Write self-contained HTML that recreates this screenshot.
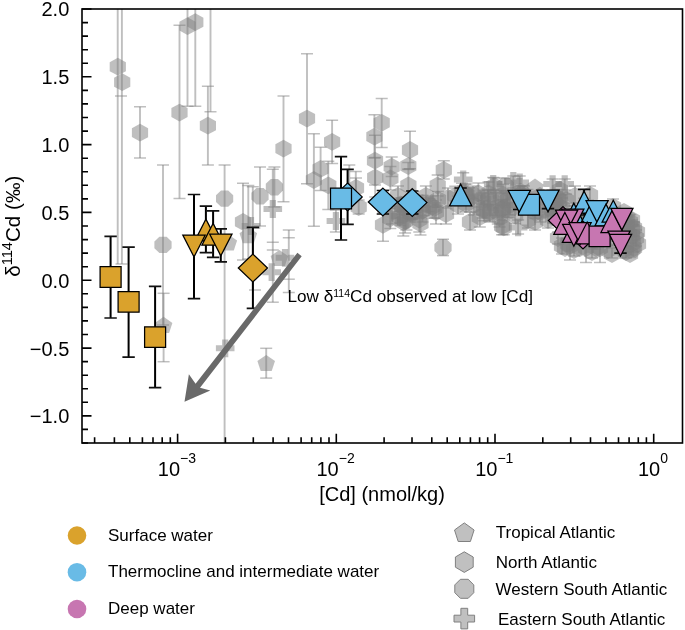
<!DOCTYPE html>
<html><head><meta charset="utf-8"><style>
html,body{margin:0;padding:0;background:#fff;width:685px;height:630px;overflow:hidden}
svg{display:block;font-family:"Liberation Sans",sans-serif;will-change:transform}
.el{stroke:#808080;stroke-opacity:.5;stroke-width:1.9;fill:none}
.ec{stroke:#808080;stroke-opacity:.5;stroke-width:1.5;fill:none}
.gm{fill:#808080;fill-opacity:.5}
.eb{stroke:#000;stroke-width:2;fill:none}
.ebc{stroke:#111;stroke-width:1.7;fill:none}
.cm{stroke:#000;stroke-width:1.25;stroke-linejoin:miter}
</style></head><body>
<svg width="685" height="630" viewBox="0 0 685 630">
<defs><clipPath id="ax"><rect x="82.0" y="9.0" width="600.5" height="434.0"/></clipPath></defs>
<g clip-path="url(#ax)">
<path d="M117.8 57.8 L109.7 62.2 L109.7 71.2 L117.8 75.6 L125.9 71.2 L125.9 62.2Z" class="gm"/>
<path d="M122.2 73.3 L114.1 77.8 L114.1 86.7 L122.2 91.1 L130.3 86.7 L130.3 77.8Z" class="gm"/>
<path d="M140 106.7V158.1" class="el"/>
<path d="M134 106.7H146" class="ec"/>
<path d="M134 158.1H146" class="ec"/>
<path d="M140 123.8 L131.9 128.2 L131.9 137.1 L140 141.6 L148.1 137.2 L148.1 128.2Z" class="gm"/>
<path d="M179.5 25.3V198.6" class="el"/>
<path d="M173.5 25.3H185.5" class="ec"/>
<path d="M173.5 198.6H185.5" class="ec"/>
<path d="M179.5 103.7 L171.4 108.1 L171.4 117 L179.5 121.5 L187.6 117 L187.6 108.1Z" class="gm"/>
<path d="M187.5 4V106.2" class="el"/>
<path d="M181.5 106.2H193.5" class="ec"/>
<path d="M187.5 17.3 L179.4 21.8 L179.4 30.6 L187.5 35.1 L195.6 30.7 L195.6 21.8Z" class="gm"/>
<path d="M195.3 4V106.2" class="el"/>
<path d="M189.3 106.2H201.3" class="ec"/>
<path d="M195.3 13.3 L187.2 17.8 L187.2 26.6 L195.3 31.1 L203.4 26.7 L203.4 17.8Z" class="gm"/>
<path d="M207.9 86.3V165" class="el"/>
<path d="M201.9 86.3H213.9" class="ec"/>
<path d="M201.9 165H213.9" class="ec"/>
<path d="M207.9 116.8 L199.8 121.2 L199.8 130.2 L207.9 134.6 L216 130.2 L216 121.2Z" class="gm"/>
<path d="M163 165V325" class="el"/>
<path d="M157 165H169" class="ec"/>
<path d="M157 325H169" class="ec"/>
<path d="M171.6 241.5 L166.6 236.7 L159.4 236.7 L154.4 241.5 L154.4 248.3 L159.4 253.1 L166.6 253.1 L171.6 248.3Z" class="gm"/>
<path d="M163.6 293.3V361.7" class="el"/>
<path d="M157.6 293.3H169.6" class="ec"/>
<path d="M157.6 361.7H169.6" class="ec"/>
<path d="M163.6 316.8 L154.8 322.9 L158.1 332.9 L169.1 332.9 L172.4 322.9Z" class="gm"/>
<path d="M224.6 165V448" class="el"/>
<path d="M218.6 165H230.6" class="ec"/>
<path d="M233.2 195.2 L228.2 190.4 L221 190.4 L216 195.2 L216 202 L221 206.8 L228.2 206.8 L233.2 202Z" class="gm"/>
<path d="M222.1 339.4 L228.3 339.4 L228.3 345.3 L234.5 345.3 L234.5 351.3 L228.3 351.3 L228.3 357.2 L222.1 357.2 L222.1 351.3 L215.9 351.3 L215.9 345.3 L222.1 345.3Z" class="gm"/>
<path d="M266.2 348.3V378.1" class="el"/>
<path d="M260.2 348.3H272.2" class="ec"/>
<path d="M260.2 378.1H272.2" class="ec"/>
<path d="M266.2 354.9 L257.4 361 L260.7 371 L271.7 371 L275 361Z" class="gm"/>
<path d="M283.5 95.9V201.7" class="el"/>
<path d="M277.5 95.9H289.5" class="ec"/>
<path d="M277.5 201.7H289.5" class="ec"/>
<path d="M283.5 139.7 L275.4 144.2 L275.4 153 L283.5 157.5 L291.6 153.1 L291.6 144.2Z" class="gm"/>
<path d="M307 53.7V183.8" class="el"/>
<path d="M301 53.7H313" class="ec"/>
<path d="M301 183.8H313" class="ec"/>
<path d="M307 109.7 L298.9 114.1 L298.9 123 L307 127.5 L315.1 123 L315.1 114.1Z" class="gm"/>
<path d="M260 166.9V225.9" class="el"/>
<path d="M254 166.9H266" class="ec"/>
<path d="M254 225.9H266" class="ec"/>
<path d="M268.6 192.8 L263.6 188 L256.4 188 L251.4 192.8 L251.4 199.6 L256.4 204.4 L263.6 204.4 L268.6 199.6Z" class="gm"/>
<path d="M274.4 167.1V207" class="el"/>
<path d="M268.4 167.1H280.4" class="ec"/>
<path d="M268.4 207H280.4" class="ec"/>
<path d="M283 183.8 L278 179 L270.8 179 L265.8 183.8 L265.8 190.6 L270.8 195.4 L278 195.4 L283 190.6Z" class="gm"/>
<path d="M269.7 200.1 L275.9 200.1 L275.9 206 L282.1 206 L282.1 212 L275.9 212 L275.9 217.9 L269.7 217.9 L269.7 212 L263.5 212 L263.5 206 L269.7 206Z" class="gm"/>
<path d="M243 183.3V260" class="el"/>
<path d="M237 183.3H249" class="ec"/>
<path d="M237 260H249" class="ec"/>
<path d="M243 212.9 L234.9 217.4 L234.9 226.2 L243 230.7 L251.1 226.3 L251.1 217.4Z" class="gm"/>
<path d="M248.3 185.5V259" class="el"/>
<path d="M242.3 185.5H254.3" class="ec"/>
<path d="M242.3 259H254.3" class="ec"/>
<path d="M248.3 227.1 L239.5 233.2 L242.8 243.2 L253.8 243.2 L257.1 233.2Z" class="gm"/>
<path d="M247.9 217.1 L254.1 217.1 L254.1 223 L260.3 223 L260.3 229 L254.1 229 L254.1 234.9 L247.9 234.9 L247.9 229 L241.7 229 L241.7 223 L247.9 223Z" class="gm"/>
<path d="M228.3 234.4 L219.5 240.5 L222.8 250.5 L233.8 250.5 L237.1 240.5Z" class="gm"/>
<path d="M279.4 250 L270.6 256.1 L273.9 266.1 L284.9 266.1 L288.2 256.1Z" class="gm"/>
<path d="M281.9 248.9 L288.1 248.9 L288.1 254.8 L294.3 254.8 L294.3 260.8 L288.1 260.8 L288.1 266.7 L281.9 266.7 L281.9 260.8 L275.7 260.8 L275.7 254.8 L281.9 254.8Z" class="gm"/>
<path d="M268.6 263.3 L274.8 263.3 L274.8 269.2 L281 269.2 L281 275.2 L274.8 275.2 L274.8 281.1 L268.6 281.1 L268.6 275.2 L262.4 275.2 L262.4 269.2 L268.6 269.2Z" class="gm"/>
<path d="M332.1 120.3V163.6" class="el"/>
<path d="M326.1 120.3H338.1" class="ec"/>
<path d="M326.1 163.6H338.1" class="ec"/>
<path d="M332.1 133 L324 137.5 L324 146.3 L332.1 150.8 L340.2 146.4 L340.2 137.5Z" class="gm"/>
<path d="M320.6 147.3V190.5" class="el"/>
<path d="M314.6 147.3H326.6" class="ec"/>
<path d="M314.6 190.5H326.6" class="ec"/>
<path d="M320.6 160 L312.5 164.5 L312.5 173.3 L320.6 177.8 L328.7 173.4 L328.7 164.5Z" class="gm"/>
<path d="M313.9 133.7V226.3" class="el"/>
<path d="M307.9 133.7H319.9" class="ec"/>
<path d="M307.9 226.3H319.9" class="ec"/>
<path d="M313.9 171.1 L305.8 175.6 L305.8 184.4 L313.9 188.9 L322 184.5 L322 175.6Z" class="gm"/>
<path d="M328.3 161.3V209.5" class="el"/>
<path d="M322.3 161.3H334.3" class="ec"/>
<path d="M322.3 209.5H334.3" class="ec"/>
<path d="M328.3 176.5 L320.2 181 L320.2 189.8 L328.3 194.3 L336.4 189.9 L336.4 181Z" class="gm"/>
<path d="M381.7 98.6V147.6" class="el"/>
<path d="M375.7 98.6H387.7" class="ec"/>
<path d="M375.7 147.6H387.7" class="ec"/>
<path d="M381.7 113.9 L373.6 118.3 L373.6 127.2 L381.7 131.7 L389.8 127.2 L389.8 118.3Z" class="gm"/>
<path d="M374.4 114.8V158" class="el"/>
<path d="M368.4 114.8H380.4" class="ec"/>
<path d="M368.4 158H380.4" class="ec"/>
<path d="M374.4 127.8 L366.3 132.2 L366.3 141.1 L374.4 145.6 L382.5 141.2 L382.5 132.2Z" class="gm"/>
<path d="M375 135.3V185" class="el"/>
<path d="M369 135.3H381" class="ec"/>
<path d="M369 185H381" class="ec"/>
<path d="M375 151.7 L366.9 156.2 L366.9 165 L375 169.5 L383.1 165.1 L383.1 156.2Z" class="gm"/>
<path d="M375.2 157.6V197" class="el"/>
<path d="M369.2 157.6H381.2" class="ec"/>
<path d="M369.2 197H381.2" class="ec"/>
<path d="M375.2 168.7 L367.1 173.2 L367.1 182 L375.2 186.5 L383.3 182.1 L383.3 173.2Z" class="gm"/>
<path d="M410 131.3V168.7" class="el"/>
<path d="M404 131.3H416" class="ec"/>
<path d="M404 168.7H416" class="ec"/>
<path d="M410 141.1 L401.9 145.6 L401.9 154.4 L410 158.9 L418.1 154.5 L418.1 145.6Z" class="gm"/>
<path d="M408.3 162.6V169.4" class="el"/>
<path d="M402.3 162.6H414.3" class="ec"/>
<path d="M402.3 169.4H414.3" class="ec"/>
<path d="M408.3 157.1 L400.2 161.6 L400.2 170.4 L408.3 174.9 L416.4 170.5 L416.4 161.6Z" class="gm"/>
<path d="M391.7 157V176.4" class="el"/>
<path d="M385.7 157H397.7" class="ec"/>
<path d="M385.7 176.4H397.7" class="ec"/>
<path d="M391.7 157.8 L383.6 162.2 L383.6 171.1 L391.7 175.6 L399.8 171.2 L399.8 162.2Z" class="gm"/>
<path d="M390.4 166.4V190" class="el"/>
<path d="M384.4 166.4H396.4" class="ec"/>
<path d="M384.4 190H396.4" class="ec"/>
<path d="M390.4 169.4 L382.3 173.9 L382.3 182.8 L390.4 187.2 L398.5 182.8 L398.5 173.9Z" class="gm"/>
<path d="M408.4 169.1V201" class="el"/>
<path d="M402.4 169.1H414.4" class="ec"/>
<path d="M402.4 201H414.4" class="ec"/>
<path d="M408.4 176.5 L400.3 181 L400.3 189.8 L408.4 194.3 L416.5 189.9 L416.5 181Z" class="gm"/>
<path d="M443.8 160.8V179" class="el"/>
<path d="M437.8 160.8H449.8" class="ec"/>
<path d="M437.8 179H449.8" class="ec"/>
<path d="M443.8 161.1 L435.7 165.6 L435.7 174.4 L443.8 178.9 L451.9 174.5 L451.9 165.6Z" class="gm"/>
<path d="M463.2 172.8V186" class="el"/>
<path d="M457.2 172.8H469.2" class="ec"/>
<path d="M457.2 186H469.2" class="ec"/>
<path d="M460.1 170.5 L466.3 170.5 L466.3 176.4 L472.5 176.4 L472.5 182.4 L466.3 182.4 L466.3 188.3 L460.1 188.3 L460.1 182.4 L453.9 182.4 L453.9 176.4 L460.1 176.4Z" class="gm"/>
<path d="M437.7 175V196" class="el"/>
<path d="M431.7 175H443.7" class="ec"/>
<path d="M431.7 196H443.7" class="ec"/>
<path d="M437.7 176.6 L429.6 181.1 L429.6 189.9 L437.7 194.4 L445.8 190 L445.8 181.1Z" class="gm"/>
<path d="M356 178V198" class="el"/>
<path d="M350 178H362" class="ec"/>
<path d="M350 198H362" class="ec"/>
<path d="M356 179.1 L347.9 183.6 L347.9 192.4 L356 196.9 L364.1 192.5 L364.1 183.6Z" class="gm"/>
<path d="M335.9 210V232" class="el"/>
<path d="M329.9 210H341.9" class="ec"/>
<path d="M329.9 232H341.9" class="ec"/>
<path d="M332.8 212.1 L339 212.1 L339 218 L345.2 218 L345.2 224 L339 224 L339 229.9 L332.8 229.9 L332.8 224 L326.6 224 L326.6 218 L332.8 218Z" class="gm"/>
<path d="M358.7 200V214" class="el"/>
<path d="M352.7 200H364.7" class="ec"/>
<path d="M352.7 214H364.7" class="ec"/>
<path d="M358.7 198.1 L350.6 202.6 L350.6 211.4 L358.7 215.9 L366.8 211.5 L366.8 202.6Z" class="gm"/>
<path d="M383 212V241.2" class="el"/>
<path d="M377 212H389" class="ec"/>
<path d="M377 241.2H389" class="ec"/>
<path d="M383 215.9 L374.9 220.4 L374.9 229.2 L383 233.7 L391.1 229.3 L391.1 220.4Z" class="gm"/>
<path d="M403.3 208V236" class="el"/>
<path d="M397.3 208H409.3" class="ec"/>
<path d="M397.3 236H409.3" class="ec"/>
<path d="M403.3 213.3 L395.2 217.8 L395.2 226.6 L403.3 231.1 L411.4 226.7 L411.4 217.8Z" class="gm"/>
<path d="M405.1 209V233" class="el"/>
<path d="M399.1 209H411.1" class="ec"/>
<path d="M399.1 233H411.1" class="ec"/>
<path d="M405.1 212.1 L397 216.6 L397 225.4 L405.1 229.9 L413.2 225.5 L413.2 216.6Z" class="gm"/>
<path d="M420.5 212V235" class="el"/>
<path d="M414.5 212H426.5" class="ec"/>
<path d="M414.5 235H426.5" class="ec"/>
<path d="M420.5 214.6 L412.4 219.1 L412.4 227.9 L420.5 232.4 L428.6 228 L428.6 219.1Z" class="gm"/>
<path d="M419.3 207V232" class="el"/>
<path d="M413.3 207H425.3" class="ec"/>
<path d="M413.3 232H425.3" class="ec"/>
<path d="M419.3 210.7 L411.2 215.2 L411.2 224 L419.3 228.5 L427.4 224.1 L427.4 215.2Z" class="gm"/>
<path d="M443 239.3V255.6" class="el"/>
<path d="M437 239.3H449" class="ec"/>
<path d="M437 255.6H449" class="ec"/>
<path d="M451.6 244.1 L446.6 239.3 L439.4 239.3 L434.4 244.1 L434.4 250.9 L439.4 255.7 L446.6 255.7 L451.6 250.9Z" class="gm"/>
<path d="M425.9 186V206" class="el"/>
<path d="M419.9 186H431.9" class="ec"/>
<path d="M419.9 206H431.9" class="ec"/>
<path d="M425.9 187.1 L417.8 191.6 L417.8 200.4 L425.9 204.9 L434 200.5 L434 191.6Z" class="gm"/>
<path d="M432.5 196V218" class="el"/>
<path d="M426.5 196H438.5" class="ec"/>
<path d="M426.5 218H438.5" class="ec"/>
<path d="M432.5 197.6 L424.4 202.1 L424.4 210.9 L432.5 215.4 L440.6 211 L440.6 202.1Z" class="gm"/>
<path d="M436 200V224" class="el"/>
<path d="M430 200H442" class="ec"/>
<path d="M430 224H442" class="ec"/>
<path d="M436 203.1 L427.9 207.6 L427.9 216.4 L436 220.9 L444.1 216.5 L444.1 207.6Z" class="gm"/>
<path d="M398 186V206" class="el"/>
<path d="M392 186H404" class="ec"/>
<path d="M392 206H404" class="ec"/>
<path d="M398 187.1 L389.9 191.6 L389.9 200.4 L398 204.9 L406.1 200.5 L406.1 191.6Z" class="gm"/>
<path d="M392 200V224" class="el"/>
<path d="M386 200H398" class="ec"/>
<path d="M386 224H398" class="ec"/>
<path d="M392 203.1 L383.9 207.6 L383.9 216.4 L392 220.9 L400.1 216.5 L400.1 207.6Z" class="gm"/>
<path d="M448 188V208" class="el"/>
<path d="M442 188H454" class="ec"/>
<path d="M442 208H454" class="ec"/>
<path d="M448 189.1 L439.9 193.6 L439.9 202.4 L448 206.9 L456.1 202.5 L456.1 193.6Z" class="gm"/>
<path d="M446 206V224" class="el"/>
<path d="M440 206H452" class="ec"/>
<path d="M440 224H452" class="ec"/>
<path d="M446 205.1 L437.9 209.6 L437.9 218.4 L446 222.9 L454.1 218.5 L454.1 209.6Z" class="gm"/>
<path d="M466 196V212" class="el"/>
<path d="M460 196H472" class="ec"/>
<path d="M460 212H472" class="ec"/>
<path d="M466 195.1 L457.9 199.6 L457.9 208.4 L466 212.9 L474.1 208.5 L474.1 199.6Z" class="gm"/>
<path d="M478.4 183V203" class="el"/>
<path d="M472.4 183H484.4" class="ec"/>
<path d="M472.4 203H484.4" class="ec"/>
<path d="M478.4 184.5 L470.3 189 L470.3 197.8 L478.4 202.3 L486.5 197.9 L486.5 189Z" class="gm"/>
<path d="M479.8 207V227" class="el"/>
<path d="M473.8 207H485.8" class="ec"/>
<path d="M473.8 227H485.8" class="ec"/>
<path d="M479.8 208.1 L471.7 212.6 L471.7 221.4 L479.8 225.9 L487.9 221.5 L487.9 212.6Z" class="gm"/>
<path d="M474 195V215" class="el"/>
<path d="M468 195H480" class="ec"/>
<path d="M468 215H480" class="ec"/>
<path d="M474 196.1 L465.9 200.6 L465.9 209.4 L474 213.9 L482.1 209.5 L482.1 200.6Z" class="gm"/>
<path d="M488 190V210" class="el"/>
<path d="M482 190H494" class="ec"/>
<path d="M482 210H494" class="ec"/>
<path d="M488 191.1 L479.9 195.6 L479.9 204.4 L488 208.9 L496.1 204.5 L496.1 195.6Z" class="gm"/>
<path d="M494.2 178V194" class="el"/>
<path d="M488.2 178H500.2" class="ec"/>
<path d="M488.2 194H500.2" class="ec"/>
<path d="M494.2 177.1 L486.1 181.6 L486.1 190.4 L494.2 194.9 L502.3 190.5 L502.3 181.6Z" class="gm"/>
<path d="M502.1 216V234.7" class="el"/>
<path d="M496.1 216H508.1" class="ec"/>
<path d="M496.1 234.7H508.1" class="ec"/>
<path d="M502.1 217.3 L494 221.8 L494 230.6 L502.1 235.1 L510.2 230.7 L510.2 221.8Z" class="gm"/>
<path d="M499.6 208V227" class="el"/>
<path d="M493.6 208H505.6" class="ec"/>
<path d="M493.6 227H505.6" class="ec"/>
<path d="M499.6 208.9 L491.5 213.4 L491.5 222.2 L499.6 226.7 L507.7 222.3 L507.7 213.4Z" class="gm"/>
<path d="M490 202V222" class="el"/>
<path d="M484 202H496" class="ec"/>
<path d="M484 222H496" class="ec"/>
<path d="M490 203.1 L481.9 207.6 L481.9 216.4 L490 220.9 L498.1 216.5 L498.1 207.6Z" class="gm"/>
<path d="M493.2 177.5V190" class="el"/>
<path d="M487.2 177.5H499.2" class="ec"/>
<path d="M487.2 190H499.2" class="ec"/>
<path d="M490.1 175.1 L496.3 175.1 L496.3 181 L502.5 181 L502.5 187 L496.3 187 L496.3 192.9 L490.1 192.9 L490.1 187 L483.9 187 L483.9 181 L490.1 181Z" class="gm"/>
<path d="M513.3 176V188" class="el"/>
<path d="M507.3 176H519.3" class="ec"/>
<path d="M507.3 188H519.3" class="ec"/>
<path d="M510.2 172.1 L516.4 172.1 L516.4 178 L522.6 178 L522.6 184 L516.4 184 L516.4 189.9 L510.2 189.9 L510.2 184 L504 184 L504 178 L510.2 178Z" class="gm"/>
<path d="M505.3 178V193" class="el"/>
<path d="M499.3 178H511.3" class="ec"/>
<path d="M499.3 193H511.3" class="ec"/>
<path d="M513.9 182.3 L508.9 177.5 L501.7 177.5 L496.7 182.3 L496.7 189.1 L501.7 193.9 L508.9 193.9 L513.9 189.1Z" class="gm"/>
<path d="M535 178.6 L526.2 184.7 L529.5 194.7 L540.5 194.7 L543.8 184.7Z" class="gm"/>
<path d="M519.7 176V189" class="el"/>
<path d="M513.7 176H525.7" class="ec"/>
<path d="M513.7 189H525.7" class="ec"/>
<path d="M516.6 173.6 L522.8 173.6 L522.8 179.5 L529 179.5 L529 185.5 L522.8 185.5 L522.8 191.4 L516.6 191.4 L516.6 185.5 L510.4 185.5 L510.4 179.5 L516.6 179.5Z" class="gm"/>
<path d="M552.6 179V190" class="el"/>
<path d="M546.6 179H558.6" class="ec"/>
<path d="M546.6 190H558.6" class="ec"/>
<path d="M549.5 175.2 L555.7 175.2 L555.7 181.1 L561.9 181.1 L561.9 187.1 L555.7 187.1 L555.7 193 L549.5 193 L549.5 187.1 L543.3 187.1 L543.3 181.1 L549.5 181.1Z" class="gm"/>
<path d="M564.7 179V190" class="el"/>
<path d="M558.7 179H570.7" class="ec"/>
<path d="M558.7 190H570.7" class="ec"/>
<path d="M561.6 175.2 L567.8 175.2 L567.8 181.1 L574 181.1 L574 187.1 L567.8 187.1 L567.8 193 L561.6 193 L561.6 187.1 L555.4 187.1 L555.4 181.1 L561.6 181.1Z" class="gm"/>
<path d="M503.7 220V234.7" class="el"/>
<path d="M497.7 220H509.7" class="ec"/>
<path d="M497.7 234.7H509.7" class="ec"/>
<path d="M503.7 218.5 L495.6 223 L495.6 231.8 L503.7 236.3 L511.8 231.9 L511.8 223Z" class="gm"/>
<path d="M518.1 220V234" class="el"/>
<path d="M512.1 220H524.1" class="ec"/>
<path d="M512.1 234H524.1" class="ec"/>
<path d="M515 218.5 L521.2 218.5 L521.2 224.4 L527.4 224.4 L527.4 230.4 L521.2 230.4 L521.2 236.3 L515 236.3 L515 230.4 L508.8 230.4 L508.8 224.4 L515 224.4Z" class="gm"/>
<path d="M510 195V215" class="el"/>
<path d="M504 195H516" class="ec"/>
<path d="M504 215H516" class="ec"/>
<path d="M510 196.1 L501.9 200.6 L501.9 209.4 L510 213.9 L518.1 209.5 L518.1 200.6Z" class="gm"/>
<path d="M540 202V222" class="el"/>
<path d="M534 202H546" class="ec"/>
<path d="M534 222H546" class="ec"/>
<path d="M540 203.1 L531.9 207.6 L531.9 216.4 L540 220.9 L548.1 216.5 L548.1 207.6Z" class="gm"/>
<path d="M535 212V230" class="el"/>
<path d="M529 212H541" class="ec"/>
<path d="M529 230H541" class="ec"/>
<path d="M535 213.1 L526.9 217.6 L526.9 226.4 L535 230.9 L543.1 226.5 L543.1 217.6Z" class="gm"/>
<path d="M548 212V228" class="el"/>
<path d="M542 212H554" class="ec"/>
<path d="M542 228H554" class="ec"/>
<path d="M548 211.1 L539.9 215.6 L539.9 224.4 L548 228.9 L556.1 224.5 L556.1 215.6Z" class="gm"/>
<path d="M470 212V230" class="el"/>
<path d="M464 212H476" class="ec"/>
<path d="M464 230H476" class="ec"/>
<path d="M470 213.1 L461.9 217.6 L461.9 226.4 L470 230.9 L478.1 226.5 L478.1 217.6Z" class="gm"/>
<path d="M458 196V214" class="el"/>
<path d="M452 196H464" class="ec"/>
<path d="M452 214H464" class="ec"/>
<path d="M458 196.1 L449.9 200.6 L449.9 209.4 L458 213.9 L466.1 209.5 L466.1 200.6Z" class="gm"/>
<path d="M524 186V206" class="el"/>
<path d="M518 186H530" class="ec"/>
<path d="M518 206H530" class="ec"/>
<path d="M524 187.1 L515.9 191.6 L515.9 200.4 L524 204.9 L532.1 200.5 L532.1 191.6Z" class="gm"/>
<path d="M528 212V228" class="el"/>
<path d="M522 212H534" class="ec"/>
<path d="M522 228H534" class="ec"/>
<path d="M528 211.1 L519.9 215.6 L519.9 224.4 L528 228.9 L536.1 224.5 L536.1 215.6Z" class="gm"/>
<path d="M562 238V254" class="el"/>
<path d="M556 238H568" class="ec"/>
<path d="M556 254H568" class="ec"/>
<path d="M562 237.1 L553.9 241.6 L553.9 250.4 L562 254.9 L570.1 250.5 L570.1 241.6Z" class="gm"/>
<path d="M562 198V218" class="el"/>
<path d="M556 198H568" class="ec"/>
<path d="M556 218H568" class="ec"/>
<path d="M562 199.1 L553.9 203.6 L553.9 212.4 L562 216.9 L570.1 212.5 L570.1 203.6Z" class="gm"/>
<path d="M575 186V206" class="el"/>
<path d="M569 186H581" class="ec"/>
<path d="M569 206H581" class="ec"/>
<path d="M575 187.1 L566.9 191.6 L566.9 200.4 L575 204.9 L583.1 200.5 L583.1 191.6Z" class="gm"/>
<path d="M590 186V204" class="el"/>
<path d="M584 186H596" class="ec"/>
<path d="M584 204H596" class="ec"/>
<path d="M590 186.1 L581.9 190.6 L581.9 199.4 L590 203.9 L598.1 199.5 L598.1 190.6Z" class="gm"/>
<path d="M570 238V260" class="el"/>
<path d="M564 238H576" class="ec"/>
<path d="M564 260H576" class="ec"/>
<path d="M570 237.1 L561.9 241.6 L561.9 250.4 L570 254.9 L578.1 250.5 L578.1 241.6Z" class="gm"/>
<path d="M586 240V262.6" class="el"/>
<path d="M580 240H592" class="ec"/>
<path d="M580 262.6H592" class="ec"/>
<path d="M586 239.1 L577.9 243.6 L577.9 252.4 L586 256.9 L594.1 252.5 L594.1 243.6Z" class="gm"/>
<path d="M600 240V262.6" class="el"/>
<path d="M594 240H606" class="ec"/>
<path d="M594 262.6H606" class="ec"/>
<path d="M600 239.1 L591.9 243.6 L591.9 252.4 L600 256.9 L608.1 252.5 L608.1 243.6Z" class="gm"/>
<path d="M632 220V240" class="el"/>
<path d="M626 220H638" class="ec"/>
<path d="M626 240H638" class="ec"/>
<path d="M632 221.1 L623.9 225.6 L623.9 234.4 L632 238.9 L640.1 234.5 L640.1 225.6Z" class="gm"/>
<path d="M633 236V252" class="el"/>
<path d="M627 236H639" class="ec"/>
<path d="M627 252H639" class="ec"/>
<path d="M633 234.1 L624.9 238.6 L624.9 247.4 L633 251.9 L641.1 247.5 L641.1 238.6Z" class="gm"/>
<path d="M626 246V258" class="el"/>
<path d="M620 246H632" class="ec"/>
<path d="M620 258H632" class="ec"/>
<path d="M626 243.1 L617.9 247.6 L617.9 256.4 L626 260.9 L634.1 256.4 L634.1 247.6Z" class="gm"/>
<path d="M624 203.1 L615.9 207.6 L615.9 216.4 L624 220.9 L632.1 216.5 L632.1 207.6Z" class="gm"/>
<path d="M613 199V214" class="el"/>
<path d="M607 199H619" class="ec"/>
<path d="M607 214H619" class="ec"/>
<path d="M613 198.1 L604.9 202.6 L604.9 211.4 L613 215.9 L621.1 211.5 L621.1 202.6Z" class="gm"/>
<path d="M637 223.1 L628.9 227.6 L628.9 236.4 L637 240.9 L645.1 236.5 L645.1 227.6Z" class="gm"/>
<path d="M638 235.1 L629.9 239.6 L629.9 248.4 L638 252.9 L646.1 248.5 L646.1 239.6Z" class="gm"/>
<path d="M630 245.1 L621.9 249.6 L621.9 258.4 L630 262.9 L638.1 258.4 L638.1 249.6Z" class="gm"/>
<path d="M630 213.1 L621.9 217.6 L621.9 226.4 L630 230.9 L638.1 226.5 L638.1 217.6Z" class="gm"/>
<path d="M632 211.1 L623.9 215.6 L623.9 224.4 L632 228.9 L640.1 224.5 L640.1 215.6Z" class="gm"/>
<path d="M565 239.1 L556.9 243.6 L556.9 252.4 L565 256.9 L573.1 252.5 L573.1 243.6Z" class="gm"/>
<path d="M552 201.1 L543.9 205.6 L543.9 214.4 L552 218.9 L560.1 214.5 L560.1 205.6Z" class="gm"/>
<path d="M560 191.1 L551.9 195.6 L551.9 204.4 L560 208.9 L568.1 204.5 L568.1 195.6Z" class="gm"/>
<path d="M634 222V236" class="el"/>
<path d="M628 222H640" class="ec"/>
<path d="M628 236H640" class="ec"/>
<path d="M634 219.1 L625.9 223.6 L625.9 232.4 L634 236.9 L642.1 232.5 L642.1 223.6Z" class="gm"/>
<path d="M636 230V246" class="el"/>
<path d="M630 230H642" class="ec"/>
<path d="M630 246H642" class="ec"/>
<path d="M636 229.1 L627.9 233.6 L627.9 242.4 L636 246.9 L644.1 242.5 L644.1 233.6Z" class="gm"/>
<path d="M640.6 246.6 L635.6 241.8 L628.4 241.8 L623.4 246.6 L623.4 253.4 L628.4 258.2 L635.6 258.2 L640.6 253.4Z" class="gm"/>
<path d="M612 248V258" class="el"/>
<path d="M606 248H618" class="ec"/>
<path d="M606 258H618" class="ec"/>
<path d="M612 245.1 L603.9 249.6 L603.9 258.4 L612 262.9 L620.1 258.4 L620.1 249.6Z" class="gm"/>
<path d="M592 246V258" class="el"/>
<path d="M586 246H598" class="ec"/>
<path d="M586 258H598" class="ec"/>
<path d="M592 243.1 L583.9 247.6 L583.9 256.4 L592 260.9 L600.1 256.4 L600.1 247.6Z" class="gm"/>
<path d="M574 244V256" class="el"/>
<path d="M568 244H580" class="ec"/>
<path d="M568 256H580" class="ec"/>
<path d="M574 241.1 L565.9 245.6 L565.9 254.4 L574 258.9 L582.1 254.5 L582.1 245.6Z" class="gm"/>
<path d="M558 232V244" class="el"/>
<path d="M552 232H564" class="ec"/>
<path d="M552 244H564" class="ec"/>
<path d="M558 229.1 L549.9 233.6 L549.9 242.4 L558 246.9 L566.1 242.5 L566.1 233.6Z" class="gm"/>
<path d="M553 211V223" class="el"/>
<path d="M547 211H559" class="ec"/>
<path d="M547 223H559" class="ec"/>
<path d="M553 208.1 L544.9 212.6 L544.9 221.4 L553 225.9 L561.1 221.5 L561.1 212.6Z" class="gm"/>
<path d="M568 235.1 L559.9 239.6 L559.9 248.4 L568 252.9 L576.1 248.5 L576.1 239.6Z" class="gm"/>
<path d="M580 239.1 L571.9 243.6 L571.9 252.4 L580 256.9 L588.1 252.5 L588.1 243.6Z" class="gm"/>
<path d="M596 239.1 L587.9 243.6 L587.9 252.4 L596 256.9 L604.1 252.5 L604.1 243.6Z" class="gm"/>
<path d="M608 241.1 L599.9 245.6 L599.9 254.4 L608 258.9 L616.1 254.5 L616.1 245.6Z" class="gm"/>
<path d="M624 241.1 L615.9 245.6 L615.9 254.4 L624 258.9 L632.1 254.5 L632.1 245.6Z" class="gm"/>
<path d="M634 239.1 L625.9 243.6 L625.9 252.4 L634 256.9 L642.1 252.5 L642.1 243.6Z" class="gm"/>
<path d="M632 227.1 L623.9 231.6 L623.9 240.4 L632 244.9 L640.1 240.5 L640.1 231.6Z" class="gm"/>
<path d="M626 219.1 L617.9 223.6 L617.9 232.4 L626 236.9 L634.1 232.5 L634.1 223.6Z" class="gm"/>
<path d="M550 191.1 L541.9 195.6 L541.9 204.4 L550 208.9 L558.1 204.5 L558.1 195.6Z" class="gm"/>
<path d="M540 187.1 L531.9 191.6 L531.9 200.4 L540 204.9 L548.1 200.5 L548.1 191.6Z" class="gm"/>
<path d="M545 201.1 L536.9 205.6 L536.9 214.4 L545 218.9 L553.1 214.5 L553.1 205.6Z" class="gm"/>
<path d="M560 181.1 L551.9 185.6 L551.9 194.4 L560 198.9 L568.1 194.5 L568.1 185.6Z" class="gm"/>
<path d="M556 204V216" class="el"/>
<path d="M550 204H562" class="ec"/>
<path d="M550 216H562" class="ec"/>
<path d="M556 201.1 L547.9 205.6 L547.9 214.4 L556 218.9 L564.1 214.5 L564.1 205.6Z" class="gm"/>
<path d="M627 209.1 L618.9 213.6 L618.9 222.4 L627 226.9 L635.1 222.5 L635.1 213.6Z" class="gm"/>
<path d="M566 194V206" class="el"/>
<path d="M560 194H572" class="ec"/>
<path d="M560 206H572" class="ec"/>
<path d="M566 191.1 L557.9 195.6 L557.9 204.4 L566 208.9 L574.1 204.5 L574.1 195.6Z" class="gm"/>
<path d="M465 184.2V203.3" class="el"/>
<path d="M459 184.2H471" class="ec"/>
<path d="M459 203.3H471" class="ec"/>
<path d="M465 184.8 L456.9 189.2 L456.9 198.1 L465 202.6 L473.1 198.2 L473.1 189.2Z" class="gm"/>
<path d="M587.9 200.2V218.3" class="el"/>
<path d="M581.9 200.2H593.9" class="ec"/>
<path d="M581.9 218.3H593.9" class="ec"/>
<path d="M596.5 205.9 L591.5 201.1 L584.3 201.1 L579.3 205.9 L579.3 212.7 L584.3 217.5 L591.5 217.5 L596.5 212.7Z" class="gm"/>
<path d="M438 191.5V207.3" class="el"/>
<path d="M432 191.5H444" class="ec"/>
<path d="M432 207.3H444" class="ec"/>
<path d="M438 190.5 L429.9 195 L429.9 203.8 L438 208.3 L446.1 203.9 L446.1 195Z" class="gm"/>
<path d="M407.4 199.6V221.1" class="el"/>
<path d="M401.4 199.6H413.4" class="ec"/>
<path d="M401.4 221.1H413.4" class="ec"/>
<path d="M407.4 201.5 L399.3 206 L399.3 214.8 L407.4 219.3 L415.5 214.9 L415.5 206Z" class="gm"/>
<path d="M619 226.4V244.5" class="el"/>
<path d="M613 226.4H625" class="ec"/>
<path d="M613 244.5H625" class="ec"/>
<path d="M619 226.5 L610.9 231 L610.9 239.8 L619 244.3 L627.1 239.9 L627.1 231Z" class="gm"/>
<path d="M527.5 189.4V213.1" class="el"/>
<path d="M521.5 189.4H533.5" class="ec"/>
<path d="M521.5 213.1H533.5" class="ec"/>
<path d="M527.5 192.4 L519.4 196.9 L519.4 205.8 L527.5 210.2 L535.6 205.8 L535.6 196.9Z" class="gm"/>
<path d="M522.5 185.8V201.7" class="el"/>
<path d="M516.5 185.8H528.5" class="ec"/>
<path d="M516.5 201.7H528.5" class="ec"/>
<path d="M531.1 190.3 L526.1 185.5 L518.9 185.5 L513.9 190.3 L513.9 197.1 L518.9 201.9 L526.1 201.9 L531.1 197.1Z" class="gm"/>
<path d="M414.1 196.9V218.3" class="el"/>
<path d="M408.1 196.9H420.1" class="ec"/>
<path d="M408.1 218.3H420.1" class="ec"/>
<path d="M414.1 198.7 L406 203.2 L406 212 L414.1 216.5 L422.2 212.1 L422.2 203.2Z" class="gm"/>
<path d="M410.5 206.5V219.2" class="el"/>
<path d="M404.5 206.5H416.5" class="ec"/>
<path d="M404.5 219.2H416.5" class="ec"/>
<path d="M410.5 204 L402.4 208.5 L402.4 217.3 L410.5 221.8 L418.6 217.4 L418.6 208.5Z" class="gm"/>
<path d="M520.3 186.3V197.2" class="el"/>
<path d="M514.3 186.3H526.3" class="ec"/>
<path d="M514.3 197.2H526.3" class="ec"/>
<path d="M520.3 182.8 L512.2 187.2 L512.2 196.1 L520.3 200.6 L528.4 196.2 L528.4 187.2Z" class="gm"/>
<path d="M507.6 193.7V214.6" class="el"/>
<path d="M501.6 193.7H513.6" class="ec"/>
<path d="M501.6 214.6H513.6" class="ec"/>
<path d="M504.5 195.2 L510.7 195.2 L510.7 201.1 L516.9 201.1 L516.9 207.1 L510.7 207.1 L510.7 213 L504.5 213 L504.5 207.1 L498.3 207.1 L498.3 201.1 L504.5 201.1Z" class="gm"/>
<path d="M529.6 195.9V210.1" class="el"/>
<path d="M523.6 195.9H535.6" class="ec"/>
<path d="M523.6 210.1H535.6" class="ec"/>
<path d="M529.6 194.1 L521.5 198.6 L521.5 207.4 L529.6 211.9 L537.7 207.5 L537.7 198.6Z" class="gm"/>
<path d="M557.7 189.6V207.7" class="el"/>
<path d="M551.7 189.6H563.7" class="ec"/>
<path d="M551.7 207.7H563.7" class="ec"/>
<path d="M566.3 195.2 L561.3 190.4 L554.1 190.4 L549.1 195.2 L549.1 202 L554.1 206.8 L561.3 206.8 L566.3 202Z" class="gm"/>
<path d="M507.3 191V207.3" class="el"/>
<path d="M501.3 191H513.3" class="ec"/>
<path d="M501.3 207.3H513.3" class="ec"/>
<path d="M507.3 190.2 L498.5 196.3 L501.8 206.3 L512.8 206.3 L516.1 196.3Z" class="gm"/>
<path d="M627.1 216.9V232.8" class="el"/>
<path d="M621.1 216.9H633.1" class="ec"/>
<path d="M621.1 232.8H633.1" class="ec"/>
<path d="M627.1 216 L619 220.5 L619 229.3 L627.1 233.8 L635.2 229.4 L635.2 220.5Z" class="gm"/>
<path d="M422.5 205.1V215.6" class="el"/>
<path d="M416.5 205.1H428.5" class="ec"/>
<path d="M416.5 215.6H428.5" class="ec"/>
<path d="M422.5 201.5 L414.4 206 L414.4 214.8 L422.5 219.3 L430.6 214.9 L430.6 206Z" class="gm"/>
<path d="M573.8 203.1V225.4" class="el"/>
<path d="M567.8 203.1H579.8" class="ec"/>
<path d="M567.8 225.4H579.8" class="ec"/>
<path d="M573.8 205.4 L565.7 209.9 L565.7 218.8 L573.8 223.2 L581.9 218.8 L581.9 209.9Z" class="gm"/>
<path d="M469 187.7V204.6" class="el"/>
<path d="M463 187.7H475" class="ec"/>
<path d="M463 204.6H475" class="ec"/>
<path d="M465.9 187.3 L472.1 187.3 L472.1 193.2 L478.3 193.2 L478.3 199.2 L472.1 199.2 L472.1 205.1 L465.9 205.1 L465.9 199.2 L459.7 199.2 L459.7 193.2 L465.9 193.2Z" class="gm"/>
<path d="M402 197.9V211.7" class="el"/>
<path d="M396 197.9H408" class="ec"/>
<path d="M396 211.7H408" class="ec"/>
<path d="M402 195.9 L393.9 200.4 L393.9 209.2 L402 213.7 L410.1 209.3 L410.1 200.4Z" class="gm"/>
<path d="M400 206.4V225.5" class="el"/>
<path d="M394 206.4H406" class="ec"/>
<path d="M394 225.5H406" class="ec"/>
<path d="M396.9 207.1 L403.1 207.1 L403.1 213 L409.3 213 L409.3 219 L403.1 219 L403.1 224.9 L396.9 224.9 L396.9 219 L390.7 219 L390.7 213 L396.9 213Z" class="gm"/>
<path d="M455.3 186.2V205.6" class="el"/>
<path d="M449.3 186.2H461.3" class="ec"/>
<path d="M449.3 205.6H461.3" class="ec"/>
<path d="M455.3 187 L447.2 191.5 L447.2 200.3 L455.3 204.8 L463.4 200.4 L463.4 191.5Z" class="gm"/>
<path d="M617.3 218.6V237.2" class="el"/>
<path d="M611.3 218.6H623.3" class="ec"/>
<path d="M611.3 237.2H623.3" class="ec"/>
<path d="M614.2 219 L620.4 219 L620.4 224.9 L626.6 224.9 L626.6 230.9 L620.4 230.9 L620.4 236.8 L614.2 236.8 L614.2 230.9 L608 230.9 L608 224.9 L614.2 224.9Z" class="gm"/>
<path d="M399.6 211.3V223.1" class="el"/>
<path d="M393.6 211.3H405.6" class="ec"/>
<path d="M393.6 223.1H405.6" class="ec"/>
<path d="M399.6 208.3 L391.5 212.8 L391.5 221.6 L399.6 226.1 L407.7 221.7 L407.7 212.8Z" class="gm"/>
<path d="M483.3 201.1V218.1" class="el"/>
<path d="M477.3 201.1H489.3" class="ec"/>
<path d="M477.3 218.1H489.3" class="ec"/>
<path d="M483.3 200.7 L475.2 205.2 L475.2 214 L483.3 218.5 L491.4 214.1 L491.4 205.2Z" class="gm"/>
<path d="M495.9 192.8V215.2" class="el"/>
<path d="M489.9 192.8H501.9" class="ec"/>
<path d="M489.9 215.2H501.9" class="ec"/>
<path d="M492.8 195.1 L499 195.1 L499 201 L505.2 201 L505.2 207 L499 207 L499 212.9 L492.8 212.9 L492.8 207 L486.6 207 L486.6 201 L492.8 201Z" class="gm"/>
<path d="M598.4 212.4V228.2" class="el"/>
<path d="M592.4 212.4H604.4" class="ec"/>
<path d="M592.4 228.2H604.4" class="ec"/>
<path d="M598.4 211.4 L590.3 215.9 L590.3 224.8 L598.4 229.2 L606.5 224.8 L606.5 215.9Z" class="gm"/>
<path d="M553.6 194.9V208.1" class="el"/>
<path d="M547.6 194.9H559.6" class="ec"/>
<path d="M547.6 208.1H559.6" class="ec"/>
<path d="M553.6 192.6 L545.5 197.1 L545.5 205.9 L553.6 210.4 L561.7 206 L561.7 197.1Z" class="gm"/>
<path d="M428.5 198.1V211.4" class="el"/>
<path d="M422.5 198.1H434.5" class="ec"/>
<path d="M422.5 211.4H434.5" class="ec"/>
<path d="M425.4 195.9 L431.6 195.9 L431.6 201.8 L437.8 201.8 L437.8 207.8 L431.6 207.8 L431.6 213.7 L425.4 213.7 L425.4 207.8 L419.2 207.8 L419.2 201.8 L425.4 201.8Z" class="gm"/>
<path d="M590.3 206.1V220" class="el"/>
<path d="M584.3 206.1H596.3" class="ec"/>
<path d="M584.3 220H596.3" class="ec"/>
<path d="M590.3 204.2 L582.2 208.7 L582.2 217.5 L590.3 222 L598.4 217.6 L598.4 208.7Z" class="gm"/>
<path d="M488.5 190.1V208" class="el"/>
<path d="M482.5 190.1H494.5" class="ec"/>
<path d="M482.5 208H494.5" class="ec"/>
<path d="M488.5 190.1 L480.4 194.6 L480.4 203.4 L488.5 207.9 L496.6 203.5 L496.6 194.6Z" class="gm"/>
<path d="M555.6 195.3V214" class="el"/>
<path d="M549.6 195.3H561.6" class="ec"/>
<path d="M549.6 214H561.6" class="ec"/>
<path d="M555.6 195.8 L547.5 200.2 L547.5 209.1 L555.6 213.6 L563.7 209.2 L563.7 200.2Z" class="gm"/>
<path d="M497.8 200.7V224.1" class="el"/>
<path d="M491.8 200.7H503.8" class="ec"/>
<path d="M491.8 224.1H503.8" class="ec"/>
<path d="M506.4 209 L501.4 204.2 L494.2 204.2 L489.2 209 L489.2 215.8 L494.2 220.6 L501.4 220.6 L506.4 215.8Z" class="gm"/>
<path d="M481.9 193V204.4" class="el"/>
<path d="M475.9 193H487.9" class="ec"/>
<path d="M475.9 204.4H487.9" class="ec"/>
<path d="M478.8 189.8 L485 189.8 L485 195.7 L491.2 195.7 L491.2 201.7 L485 201.7 L485 207.6 L478.8 207.6 L478.8 201.7 L472.6 201.7 L472.6 195.7 L478.8 195.7Z" class="gm"/>
<path d="M400.4 198V211" class="el"/>
<path d="M394.4 198H406.4" class="ec"/>
<path d="M394.4 211H406.4" class="ec"/>
<path d="M400.4 195.6 L392.3 200.1 L392.3 208.9 L400.4 213.4 L408.5 209 L408.5 200.1Z" class="gm"/>
<path d="M412.2 207.6V219" class="el"/>
<path d="M406.2 207.6H418.2" class="ec"/>
<path d="M406.2 219H418.2" class="ec"/>
<path d="M412.2 204.4 L403.4 210.5 L406.7 220.5 L417.7 220.5 L421 210.5Z" class="gm"/>
<path d="M422.4 195.3V210.4" class="el"/>
<path d="M416.4 195.3H428.4" class="ec"/>
<path d="M416.4 210.4H428.4" class="ec"/>
<path d="M422.4 193.9 L414.3 198.4 L414.3 207.2 L422.4 211.7 L430.5 207.3 L430.5 198.4Z" class="gm"/>
<path d="M402.4 199.2V214.5" class="el"/>
<path d="M396.4 199.2H408.4" class="ec"/>
<path d="M396.4 214.5H408.4" class="ec"/>
<path d="M402.4 197.9 L394.3 202.4 L394.3 211.2 L402.4 215.7 L410.5 211.3 L410.5 202.4Z" class="gm"/>
<path d="M621 226.7V243.3" class="el"/>
<path d="M615 226.7H627" class="ec"/>
<path d="M615 243.3H627" class="ec"/>
<path d="M621 226.1 L612.9 230.6 L612.9 239.4 L621 243.9 L629.1 239.5 L629.1 230.6Z" class="gm"/>
<path d="M594.7 232.4V248.9" class="el"/>
<path d="M588.7 232.4H600.7" class="ec"/>
<path d="M588.7 248.9H600.7" class="ec"/>
<path d="M591.6 231.8 L597.8 231.8 L597.8 237.7 L604 237.7 L604 243.7 L597.8 243.7 L597.8 249.6 L591.6 249.6 L591.6 243.7 L585.4 243.7 L585.4 237.7 L591.6 237.7Z" class="gm"/>
<path d="M462 183.3V203.8" class="el"/>
<path d="M456 183.3H468" class="ec"/>
<path d="M456 203.8H468" class="ec"/>
<path d="M462 184.7 L453.9 189.2 L453.9 198 L462 202.5 L470.1 198.1 L470.1 189.2Z" class="gm"/>
<path d="M503.2 199.5V216.7" class="el"/>
<path d="M497.2 199.5H509.2" class="ec"/>
<path d="M497.2 216.7H509.2" class="ec"/>
<path d="M503.2 199.2 L495.1 203.7 L495.1 212.5 L503.2 217 L511.3 212.6 L511.3 203.7Z" class="gm"/>
<path d="M619.9 226.9V239" class="el"/>
<path d="M613.9 226.9H625.9" class="ec"/>
<path d="M613.9 239H625.9" class="ec"/>
<path d="M628.5 229.6 L623.5 224.8 L616.3 224.8 L611.3 229.6 L611.3 236.4 L616.3 241.2 L623.5 241.2 L628.5 236.4Z" class="gm"/>
<path d="M610.8 230.9V245.1" class="el"/>
<path d="M604.8 230.9H616.8" class="ec"/>
<path d="M604.8 245.1H616.8" class="ec"/>
<path d="M610.8 229.1 L602.7 233.6 L602.7 242.4 L610.8 246.9 L618.9 242.5 L618.9 233.6Z" class="gm"/>
<path d="M557 191.4V206.5" class="el"/>
<path d="M551 191.4H563" class="ec"/>
<path d="M551 206.5H563" class="ec"/>
<path d="M557 190 L548.9 194.5 L548.9 203.3 L557 207.8 L565.1 203.4 L565.1 194.5Z" class="gm"/>
<path d="M472.9 186V203.6" class="el"/>
<path d="M466.9 186H478.9" class="ec"/>
<path d="M466.9 203.6H478.9" class="ec"/>
<path d="M481.5 191.4 L476.5 186.6 L469.3 186.6 L464.3 191.4 L464.3 198.2 L469.3 203 L476.5 203 L481.5 198.2Z" class="gm"/>
<path d="M466.4 183.9V205.3" class="el"/>
<path d="M460.4 183.9H472.4" class="ec"/>
<path d="M460.4 205.3H472.4" class="ec"/>
<path d="M466.4 185.7 L458.3 190.2 L458.3 199 L466.4 203.5 L474.5 199.1 L474.5 190.2Z" class="gm"/>
<path d="M584.1 217.4V237.8" class="el"/>
<path d="M578.1 217.4H590.1" class="ec"/>
<path d="M578.1 237.8H590.1" class="ec"/>
<path d="M584.1 218.7 L576 223.2 L576 232 L584.1 236.5 L592.2 232.1 L592.2 223.2Z" class="gm"/>
<path d="M434.4 198V218.2" class="el"/>
<path d="M428.4 198H440.4" class="ec"/>
<path d="M428.4 218.2H440.4" class="ec"/>
<path d="M434.4 199.2 L426.3 203.7 L426.3 212.5 L434.4 217 L442.5 212.6 L442.5 203.7Z" class="gm"/>
<path d="M580.2 209.3V222" class="el"/>
<path d="M574.2 209.3H586.2" class="ec"/>
<path d="M574.2 222H586.2" class="ec"/>
<path d="M580.2 206.7 L571.4 212.8 L574.7 222.8 L585.7 222.8 L589 212.8Z" class="gm"/>
<path d="M621.3 219.6V242.7" class="el"/>
<path d="M615.3 219.6H627.3" class="ec"/>
<path d="M615.3 242.7H627.3" class="ec"/>
<path d="M621.3 222.3 L613.2 226.8 L613.2 235.6 L621.3 240.1 L629.4 235.7 L629.4 226.8Z" class="gm"/>
<path d="M620.9 222.5V235.6" class="el"/>
<path d="M614.9 222.5H626.9" class="ec"/>
<path d="M614.9 235.6H626.9" class="ec"/>
<path d="M620.9 220.1 L612.8 224.6 L612.8 233.4 L620.9 237.9 L629 233.5 L629 224.6Z" class="gm"/>
<path d="M501.1 190.4V207.2" class="el"/>
<path d="M495.1 190.4H507.1" class="ec"/>
<path d="M495.1 207.2H507.1" class="ec"/>
<path d="M501.1 189.9 L492.3 196 L495.6 206 L506.6 206 L509.9 196Z" class="gm"/>
<path d="M592.6 213.8V232.9" class="el"/>
<path d="M586.6 213.8H598.6" class="ec"/>
<path d="M586.6 232.9H598.6" class="ec"/>
<path d="M592.6 214.4 L584.5 218.9 L584.5 227.8 L592.6 232.2 L600.7 227.8 L600.7 218.9Z" class="gm"/>
<path d="M591.2 203.9V219.4" class="el"/>
<path d="M585.2 203.9H597.2" class="ec"/>
<path d="M585.2 219.4H597.2" class="ec"/>
<path d="M591.2 202.7 L583.1 207.2 L583.1 216 L591.2 220.5 L599.3 216.1 L599.3 207.2Z" class="gm"/>
<path d="M503.1 184.2V205.2" class="el"/>
<path d="M497.1 184.2H509.1" class="ec"/>
<path d="M497.1 205.2H509.1" class="ec"/>
<path d="M503.1 185.8 L495 190.2 L495 199.1 L503.1 203.6 L511.2 199.2 L511.2 190.2Z" class="gm"/>
<path d="M406.4 210V230.1" class="el"/>
<path d="M400.4 210H412.4" class="ec"/>
<path d="M400.4 230.1H412.4" class="ec"/>
<path d="M403.3 211.2 L409.5 211.2 L409.5 217.1 L415.7 217.1 L415.7 223.1 L409.5 223.1 L409.5 229 L403.3 229 L403.3 223.1 L397.1 223.1 L397.1 217.1 L403.3 217.1Z" class="gm"/>
<path d="M484.1 200.6V220.7" class="el"/>
<path d="M478.1 200.6H490.1" class="ec"/>
<path d="M478.1 220.7H490.1" class="ec"/>
<path d="M484.1 201.8 L476 206.2 L476 215.1 L484.1 219.6 L492.2 215.2 L492.2 206.2Z" class="gm"/>
<path d="M630.3 214.8V233.1" class="el"/>
<path d="M624.3 214.8H636.3" class="ec"/>
<path d="M624.3 233.1H636.3" class="ec"/>
<path d="M627.2 215.1 L633.4 215.1 L633.4 221 L639.6 221 L639.6 227 L633.4 227 L633.4 232.9 L627.2 232.9 L627.2 227 L621 227 L621 221 L627.2 221Z" class="gm"/>
<path d="M584.2 198.2V219.8" class="el"/>
<path d="M578.2 198.2H590.2" class="ec"/>
<path d="M578.2 219.8H590.2" class="ec"/>
<path d="M581.1 200.1 L587.3 200.1 L587.3 206 L593.5 206 L593.5 212 L587.3 212 L587.3 217.9 L581.1 217.9 L581.1 212 L574.9 212 L574.9 206 L581.1 206Z" class="gm"/>
<path d="M547.3 191.7V209.4" class="el"/>
<path d="M541.3 191.7H553.3" class="ec"/>
<path d="M541.3 209.4H553.3" class="ec"/>
<path d="M547.3 191.7 L539.2 196.2 L539.2 205 L547.3 209.5 L555.4 205.1 L555.4 196.2Z" class="gm"/>
<path d="M390.3 208.2V228.4" class="el"/>
<path d="M384.3 208.2H396.3" class="ec"/>
<path d="M384.3 228.4H396.3" class="ec"/>
<path d="M390.3 209.4 L382.2 213.9 L382.2 222.8 L390.3 227.2 L398.4 222.8 L398.4 213.9Z" class="gm"/>
<path d="M515.1 207.4V223.5" class="el"/>
<path d="M509.1 207.4H521.1" class="ec"/>
<path d="M509.1 223.5H521.1" class="ec"/>
<path d="M515.1 206.6 L507 211.1 L507 219.9 L515.1 224.4 L523.2 220 L523.2 211.1Z" class="gm"/>
<path d="M589.1 206.5V220.1" class="el"/>
<path d="M583.1 206.5H595.1" class="ec"/>
<path d="M583.1 220.1H595.1" class="ec"/>
<path d="M589.1 204.4 L581 208.9 L581 217.8 L589.1 222.2 L597.2 217.8 L597.2 208.9Z" class="gm"/>
<path d="M508.8 203.1V217.7" class="el"/>
<path d="M502.8 203.1H514.8" class="ec"/>
<path d="M502.8 217.7H514.8" class="ec"/>
<path d="M517.4 207 L512.4 202.2 L505.2 202.2 L500.2 207 L500.2 213.8 L505.2 218.6 L512.4 218.6 L517.4 213.8Z" class="gm"/>
<path d="M488.5 181.9V204.7" class="el"/>
<path d="M482.5 181.9H494.5" class="ec"/>
<path d="M482.5 204.7H494.5" class="ec"/>
<path d="M488.5 184.4 L480.4 188.9 L480.4 197.8 L488.5 202.2 L496.6 197.8 L496.6 188.9Z" class="gm"/>
<path d="M606.7 224V245.4" class="el"/>
<path d="M600.7 224H612.7" class="ec"/>
<path d="M600.7 245.4H612.7" class="ec"/>
<path d="M615.3 231.3 L610.3 226.5 L603.1 226.5 L598.1 231.3 L598.1 238.1 L603.1 242.9 L610.3 242.9 L615.3 238.1Z" class="gm"/>
<path d="M488.9 203.9V220.9" class="el"/>
<path d="M482.9 203.9H494.9" class="ec"/>
<path d="M482.9 220.9H494.9" class="ec"/>
<path d="M497.5 209 L492.5 204.2 L485.3 204.2 L480.3 209 L480.3 215.8 L485.3 220.6 L492.5 220.6 L497.5 215.8Z" class="gm"/>
<path d="M422.5 199.7V221.9" class="el"/>
<path d="M416.5 199.7H428.5" class="ec"/>
<path d="M416.5 221.9H428.5" class="ec"/>
<path d="M422.5 201.9 L414.4 206.4 L414.4 215.2 L422.5 219.7 L430.6 215.3 L430.6 206.4Z" class="gm"/>
<path d="M535.3 206.5V218.6" class="el"/>
<path d="M529.3 206.5H541.3" class="ec"/>
<path d="M529.3 218.6H541.3" class="ec"/>
<path d="M535.3 203.7 L527.2 208.2 L527.2 217 L535.3 221.5 L543.4 217.1 L543.4 208.2Z" class="gm"/>
<path d="M502 200V217.8" class="el"/>
<path d="M496 200H508" class="ec"/>
<path d="M496 217.8H508" class="ec"/>
<path d="M502 200 L493.9 204.5 L493.9 213.3 L502 217.8 L510.1 213.4 L510.1 204.5Z" class="gm"/>
<path d="M553.5 196.8V213.6" class="el"/>
<path d="M547.5 196.8H559.5" class="ec"/>
<path d="M547.5 213.6H559.5" class="ec"/>
<path d="M553.5 196.3 L545.4 200.8 L545.4 209.6 L553.5 214.1 L561.6 209.7 L561.6 200.8Z" class="gm"/>
<path d="M603.2 208.7V221.3" class="el"/>
<path d="M597.2 208.7H609.2" class="ec"/>
<path d="M597.2 221.3H609.2" class="ec"/>
<path d="M603.2 206.1 L595.1 210.6 L595.1 219.4 L603.2 223.9 L611.3 219.5 L611.3 210.6Z" class="gm"/>
<path d="M117.7 0V264" class="el"/>
<path d="M121.9 0V264" class="el"/>
<path d="M210.5 0V111.7" class="el"/>
<path d="M272.8 169.3V302.2" class="el"/>
<path d="M288.8 230V292.5" class="el"/>
<path d="M252.8 186.7V290" class="el"/>
<path d="M349.3 165V200" class="el"/>
<path d="M355.8 171.5V200" class="el"/>
<path d="M115 95.9H127" class="ec"/>
<path d="M115.5 264H127.5" class="ec"/>
<path d="M204.5 111.7H216.5" class="ec"/>
<path d="M266.8 169.3H278.8" class="ec"/>
<path d="M266.8 242.2H278.8" class="ec"/>
<path d="M266.8 250H278.8" class="ec"/>
<path d="M266.8 302.2H278.8" class="ec"/>
<path d="M282.8 230H294.8" class="ec"/>
<path d="M282.8 237.8H294.8" class="ec"/>
<path d="M282.8 279.2H294.8" class="ec"/>
<path d="M282.8 292.5H294.8" class="ec"/>
<path d="M246.8 186.7H258.8" class="ec"/>
<path d="M249 290H261" class="ec"/>
<path d="M343.3 165H355.3" class="ec"/>
<path d="M349.8 171.5H361.8" class="ec"/>
<path d="M110.6 236.3V318" class="eb"/><path d="M104.4 236.3H116.8M104.4 318H116.8" class="ebc"/>
<path d="M128.6 247.1V357.1" class="eb"/><path d="M122.4 247.1H134.8M122.4 357.1H134.8" class="ebc"/>
<path d="M155.1 286.3V387.7" class="eb"/><path d="M148.9 286.3H161.3M148.9 387.7H161.3" class="ebc"/>
<path d="M205.9 206.2V252.6" class="eb"/><path d="M199.7 206.2H212.1M199.7 252.6H212.1" class="ebc"/>
<path d="M213.1 210.8V257.4" class="eb"/><path d="M206.9 210.8H219.3M206.9 257.4H219.3" class="ebc"/>
<path d="M194 194.5V298.6" class="eb"/><path d="M187.8 194.5H200.2M187.8 298.6H200.2" class="ebc"/>
<path d="M220.8 228.9V261.9" class="eb"/><path d="M214.6 228.9H227M214.6 261.9H227" class="ebc"/>
<path d="M252.9 227.3V308.3" class="eb"/><path d="M246.7 227.3H259.1M246.7 308.3H259.1" class="ebc"/>
<path d="M347.6 169.4V224.4" class="eb"/><path d="M341.4 169.4H353.8M341.4 224.4H353.8" class="ebc"/>
<path d="M341 156.7V240" class="eb"/><path d="M334.8 156.7H347.2M334.8 240H347.2" class="ebc"/>
<path d="M382.9 190.5V214" class="eb"/><path d="M376.7 190.5H389.1M376.7 214H389.1" class="ebc"/>
<path d="M412.3 191V214" class="eb"/><path d="M406.1 191H418.5M406.1 214H418.5" class="ebc"/>
<path d="M460.6 188V203" class="eb"/><path d="M454.4 188H466.8M454.4 203H466.8" class="ebc"/>
<path d="M519.2 192V209.5" class="eb"/><path d="M513 192H525.4M513 209.5H525.4" class="ebc"/>
<path d="M548 193V208.7" class="eb"/><path d="M541.8 193H554.2M541.8 208.7H554.2" class="ebc"/>
<path d="M584.1 189.3V215" class="eb"/><path d="M577.9 189.3H590.3M577.9 215H590.3" class="ebc"/>
<path d="M620.5 236V253.1" class="eb"/><path d="M614.3 236H626.7M614.3 253.1H626.7" class="ebc"/>
<path d="M100.1 266.7 L121.1 266.7 L121.1 287.3 L100.1 287.3Z" fill="#daa22c" class="cm"/>
<path d="M118.1 291.6 L139.1 291.6 L139.1 312.2 L118.1 312.2Z" fill="#daa22c" class="cm"/>
<path d="M144.6 326.8 L165.6 326.8 L165.6 347.4 L144.6 347.4Z" fill="#daa22c" class="cm"/>
<path d="M205.9 219.1 L217.1 240.9 L194.8 240.9Z" fill="#daa22c" class="cm"/>
<path d="M213.1 223.4 L224.2 245.2 L201.9 245.2Z" fill="#daa22c" class="cm"/>
<path d="M194 256.9 L205.2 235.1 L182.8 235.1Z" fill="#daa22c" class="cm"/>
<path d="M220.8 255.9 L232 234.1 L209.7 234.1Z" fill="#daa22c" class="cm"/>
<path d="M252.9 254.1 L267.5 268 L252.9 281.9 L238.3 268Z" fill="#daa22c" class="cm"/>
<path d="M347.6 183 L362.2 196.9 L347.6 210.8 L333 196.9Z" fill="#69bbe6" class="cm"/>
<path d="M330.5 188.2 L351.5 188.2 L351.5 208.8 L330.5 208.8Z" fill="#69bbe6" class="cm"/>
<path d="M382.9 188.1 L397.5 202 L382.9 215.9 L368.3 202Z" fill="#69bbe6" class="cm"/>
<path d="M412.3 188.7 L426.9 202.6 L412.3 216.5 L397.7 202.6Z" fill="#69bbe6" class="cm"/>
<path d="M460.6 184.1 L471.8 205.9 L449.5 205.9Z" fill="#69bbe6" class="cm"/>
<path d="M518.5 194.4 L539.5 194.4 L539.5 215 L518.5 215Z" fill="#69bbe6" class="cm"/>
<path d="M519.2 212.1 L530.4 190.3 L508.1 190.3Z" fill="#69bbe6" class="cm"/>
<path d="M548 211.9 L559.1 190.1 L536.9 190.1Z" fill="#69bbe6" class="cm"/>
<path d="M573.8 203.1 L584.9 224.9 L562.6 224.9Z" fill="#69bbe6" class="cm"/>
<path d="M584.1 191.2 L595.2 213 L573 213Z" fill="#69bbe6" class="cm"/>
<path d="M590 205.1 L601.1 226.9 L578.9 226.9Z" fill="#69bbe6" class="cm"/>
<path d="M597.1 222.3 L608.2 200.5 L586 200.5Z" fill="#69bbe6" class="cm"/>
<path d="M606 204.1 L617.1 225.9 L594.9 225.9Z" fill="#69bbe6" class="cm"/>
<path d="M613.3 200.3 L624.4 222.1 L602.1 222.1Z" fill="#69bbe6" class="cm"/>
<path d="M563 206.6 L577.6 220.5 L563 234.4 L548.4 220.5Z" fill="#c776b1" class="cm"/>
<path d="M573.5 220.6 L584.6 242.4 L562.4 242.4Z" fill="#c776b1" class="cm"/>
<path d="M572.8 230.9 L583.9 209.1 L561.6 209.1Z" fill="#c776b1" class="cm"/>
<path d="M566.6 231.9 L577.8 210.1 L555.5 210.1Z" fill="#c776b1" class="cm"/>
<path d="M564.9 212.5 L576 234.3 L553.8 234.3Z" fill="#c776b1" class="cm"/>
<path d="M583 221.1 L597.6 235 L583 248.9 L568.4 235Z" fill="#c776b1" class="cm"/>
<path d="M573.8 246.2 L584.9 224.4 L562.6 224.4Z" fill="#c776b1" class="cm"/>
<path d="M580.1 244.4 L591.2 222.6 L569 222.6Z" fill="#c776b1" class="cm"/>
<path d="M587.2 222 L598.4 243.8 L576.1 243.8Z" fill="#c776b1" class="cm"/>
<path d="M589.1 226.1 L610.1 226.1 L610.1 246.7 L589.1 246.7Z" fill="#c776b1" class="cm"/>
<path d="M612 210.7 L623.1 232.5 L600.9 232.5Z" fill="#c776b1" class="cm"/>
<path d="M621.9 230.1 L633 208.3 L610.8 208.3Z" fill="#c776b1" class="cm"/>
<path d="M619 252.9 L630.1 231.1 L607.9 231.1Z" fill="#c776b1" class="cm"/>
<path d="M620.5 256.2 L631.6 234.4 L609.4 234.4Z" fill="#c776b1" class="cm"/>
</g>
<path d="M297.4 252.7 L301.7 256.3 L200 387.8 L210.3 390.6 L184.5 401.7 L188.9 374.3 L195.6 383.8 Z" fill="#696969"/>
<path d="M82 443h6M82 429.4h6M82 415.9h9.5M82 402.3h6M82 388.7h6M82 375.2h6M82 361.6h6M82 348.1h9.5M82 334.5h6M82 320.9h6M82 307.4h6M82 293.8h6M82 280.2h9.5M82 266.7h6M82 253.1h6M82 239.6h6M82 226h6M82 212.4h9.5M82 198.9h6M82 185.3h6M82 171.7h6M82 158.2h6M82 144.6h9.5M82 131.1h6M82 117.5h6M82 103.9h6M82 90.4h6M82 76.8h9.5M82 63.2h6M82 49.7h6M82 36.1h6M82 22.6h6M82 9h9.5M94.6 443v-5.8M114.4 443v-5.8M129.8 443v-5.8M142.4 443v-5.8M153 443v-5.8M162.2 443v-5.8M170.3 443v-5.8M177.6 443v-9.3M225.4 443v-5.8M253.3 443v-5.8M273.1 443v-5.8M288.5 443v-5.8M301.1 443v-5.8M311.7 443v-5.8M320.9 443v-5.8M329 443v-5.8M336.3 443v-9.3M384.1 443v-5.8M412 443v-5.8M431.8 443v-5.8M447.2 443v-5.8M459.8 443v-5.8M470.4 443v-5.8M479.6 443v-5.8M487.7 443v-5.8M495 443v-9.3M542.8 443v-5.8M570.7 443v-5.8M590.5 443v-5.8M605.9 443v-5.8M618.5 443v-5.8M629.1 443v-5.8M638.3 443v-5.8M646.4 443v-5.8M653.7 443v-9.3" stroke="#000" stroke-width="1.6" fill="none"/>
<rect x="82.0" y="9.0" width="600.5" height="434.0" fill="none" stroke="#000" stroke-width="1.6"/>
<g font-size="20" fill="#000">
<text x="69.3" y="16.4" text-anchor="end">2.0</text>
<text x="69.3" y="84.2" text-anchor="end">1.5</text>
<text x="69.3" y="152" text-anchor="end">1.0</text>
<text x="69.3" y="219.8" text-anchor="end">0.5</text>
<text x="69.3" y="287.6" text-anchor="end">0.0</text>
<text x="69.3" y="355.5" text-anchor="end">−0.5</text>
<text x="69.3" y="423.3" text-anchor="end">−1.0</text>
<text x="176.9" y="476.3" text-anchor="middle">10<tspan font-size="14" dy="-13.3">−3</tspan></text>
<text x="335.6" y="476.3" text-anchor="middle">10<tspan font-size="14" dy="-13.3">−2</tspan></text>
<text x="494.3" y="476.3" text-anchor="middle">10<tspan font-size="14" dy="-13.3">−1</tspan></text>
<text x="652.9" y="476.3" text-anchor="middle">10<tspan font-size="14" dy="-13.3">0</tspan></text>
<text x="382" y="501.3" text-anchor="middle">[Cd] (nmol/kg)</text>
<text transform="translate(20.3 226.2) rotate(-90)" text-anchor="middle" font-size="20.6">δ<tspan font-size="14.6" dy="-8">114</tspan><tspan dy="8">Cd (‰)</tspan></text>
</g>
<text x="287.5" y="302.3" font-size="17.15">Low δ<tspan font-size="10.5" dy="-5.2">114</tspan><tspan dy="5.2">Cd observed at low [Cd]</tspan></text>
<circle cx="77" cy="535.5" r="9.3" fill="#daa22c"/>
<text x="108" y="540.7" font-size="17">Surface water</text>
<circle cx="77" cy="572.2" r="9.3" fill="#69bbe6"/>
<text x="108" y="577.4" font-size="17">Thermocline and intermediate water</text>
<circle cx="77" cy="609" r="9.3" fill="#c776b1"/>
<text x="108" y="614.2" font-size="17">Deep water</text>
<path d="M464.3 522.9 L454.5 530 L458.2 541.5 L470.4 541.5 L474.1 530Z" fill="#c0c0c0" stroke="#808080" stroke-width="1"/>
<path d="M464.3 551.8 L455.4 557 L455.4 567.2 L464.3 572.4 L473.2 567.2 L473.2 557Z" fill="#c0c0c0" stroke="#808080" stroke-width="1"/>
<path d="M473.8 584.9 L468.2 579.3 L460.4 579.3 L454.8 584.9 L454.8 592.7 L460.4 598.3 L468.2 598.3 L473.8 592.7Z" fill="#c0c0c0" stroke="#808080" stroke-width="1"/>
<path d="M460.9 608.3 L467.7 608.3 L467.7 615.2 L474.6 615.2 L474.6 622 L467.7 622 L467.7 628.9 L460.9 628.9 L460.9 622 L454 622 L454 615.2 L460.9 615.2Z" fill="#c0c0c0" stroke="#808080" stroke-width="1"/>
<text x="495.8" y="538.2" font-size="17">Tropical Atlantic</text>
<text x="495.8" y="567.7" font-size="17">North Atlantic</text>
<text x="495.5" y="595.1" font-size="17">Western South Atlantic</text>
<text x="498" y="624.9" font-size="17">Eastern South Atlantic</text>
</svg>
</body></html>
